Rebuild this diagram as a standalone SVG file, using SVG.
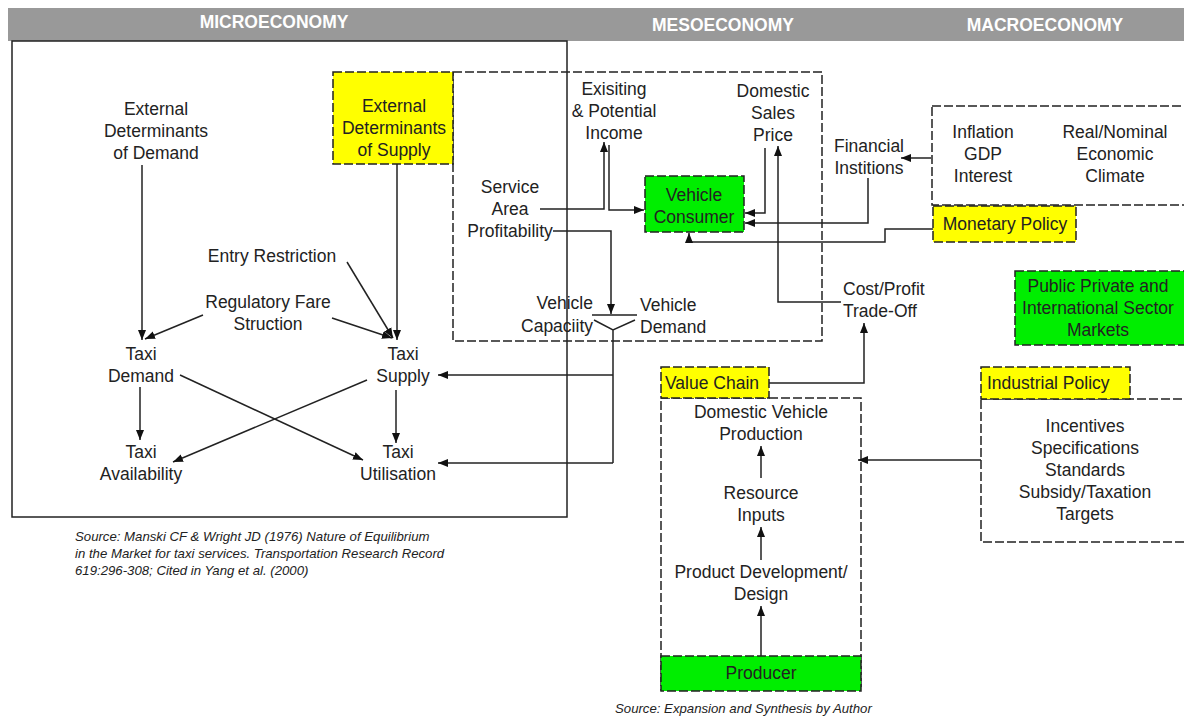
<svg xmlns="http://www.w3.org/2000/svg" width="1184" height="716" viewBox="0 0 1184 716">
<defs>
<marker id="ah" viewBox="0 0 10 10" refX="10" refY="5" markerWidth="10" markerHeight="10" markerUnits="userSpaceOnUse" orient="auto"><path d="M0,1 L10,5 L0,9 z" fill="#111"/></marker>
<style>
text{font-family:"Liberation Sans",Arial,sans-serif;font-size:17.5px;fill:#222;text-anchor:middle}
.hd{font-weight:bold;fill:#fff;font-size:17.5px}
.src{font-size:13.2px;font-style:italic;text-anchor:start}
.dash{fill:none;stroke:#222;stroke-width:1.5;stroke-dasharray:9 3}
.yel{fill:#ffff00;stroke:#222;stroke-width:1.5;stroke-dasharray:9 3}
.grn{fill:#00ee00;stroke:#222;stroke-width:1.5;stroke-dasharray:9 3}
.ln{fill:none;stroke:#222;stroke-width:1.5}
.ar{fill:none;stroke:#222;stroke-width:1.5;marker-end:url(#ah)}
</style>
</defs>
<rect width="1184" height="716" fill="#fff"/>
<g id="header">
<rect x="8" y="8" width="1176" height="33" fill="#999"/>
<text class="hd" x="274" y="28">MICROECONOMY</text>
<text class="hd" x="723" y="31">MESOECONOMY</text>
<text class="hd" x="1045" y="31">MACROECONOMY</text>
</g>
<g id="micro-box"><rect x="12" y="41" width="555" height="476" fill="none" stroke="#222" stroke-width="1.5"/></g>
<g id="meso-box"><rect x="453" y="72" width="369" height="269" class="dash"/></g>
<g id="ext-demand"><text x="156" y="115">External</text><text x="156" y="137">Determinants</text><text x="156" y="159">of Demand</text></g>
<g id="ext-supply"><rect x="333" y="72" width="120" height="92" class="yel"/><text x="394" y="112">External</text><text x="394" y="134">Determinants</text><text x="394" y="156">of Supply</text></g>
<g id="entry"><text x="272" y="262">Entry Restriction</text></g>
<g id="fare"><text x="268" y="308">Regulatory Fare</text><text x="268" y="330">Struction</text></g>
<g id="taxi-demand"><text x="141" y="360">Taxi</text><text x="141" y="382">Demand</text></g>
<g id="taxi-supply"><text x="403" y="360">Taxi</text><text x="403" y="382">Supply</text></g>
<g id="taxi-avail"><text x="141" y="458">Taxi</text><text x="141" y="480">Availability</text></g>
<g id="taxi-util"><text x="398" y="458">Taxi</text><text x="398" y="480">Utilisation</text></g>
<g id="income"><text x="614" y="95">Exisiting</text><text x="614" y="117">&amp; Potential</text><text x="614" y="139">Income</text></g>
<g id="sales-price"><text x="773" y="97">Domestic</text><text x="773" y="119">Sales</text><text x="773" y="141">Price</text></g>
<g id="service-area"><text x="510" y="193">Service</text><text x="510" y="215">Area</text><text x="510" y="237">Profitability</text></g>
<g id="vehicle-consumer"><rect x="645" y="176" width="99" height="56" class="grn"/><text x="694" y="201">Vehicle</text><text x="694" y="223">Consumer</text></g>
<g id="vehicle-cap"><text x="593" y="309" style="text-anchor:end">Vehicle</text><text x="593" y="332" style="text-anchor:end">Capaciity</text></g>
<g id="vehicle-dem"><text x="640" y="311" style="text-anchor:start">Vehicle</text><text x="640" y="333" style="text-anchor:start">Demand</text></g>
<g id="fin-inst"><text x="869" y="152">Financial</text><text x="869" y="174">Institions</text></g>
<g id="macro-box"><rect x="932" y="106" width="260" height="99" class="dash"/><text x="983" y="138">Inflation</text><text x="983" y="160">GDP</text><text x="983" y="182">Interest</text><text x="1115" y="138">Real/Nominal</text><text x="1115" y="160">Economic</text><text x="1115" y="182">Climate</text></g>
<g id="monetary"><rect x="933" y="206" width="143" height="36" class="yel"/><text x="1005" y="230">Monetary Policy</text></g>
<g id="markets"><rect x="1015" y="271" width="175" height="74" class="grn"/><text x="1098" y="292">Public Private and</text><text x="1098" y="314">International Sector</text><text x="1098" y="336">Markets</text></g>
<g id="cost-profit"><text x="843" y="295" style="text-anchor:start">Cost/Profit</text><text x="843" y="317" style="text-anchor:start">Trade-Off</text></g>
<g id="value-chain"><rect x="661" y="398" width="200" height="292" class="dash"/><rect x="661" y="367" width="108" height="31" class="yel"/><text x="665" y="389" style="text-anchor:start">Value Chain</text>
<text x="761" y="418">Domestic Vehicle</text><text x="761" y="440">Production</text>
<text x="761" y="499">Resource</text><text x="761" y="521">Inputs</text>
<text x="761" y="578">Product Development/</text><text x="761" y="600">Design</text></g>
<g id="producer"><rect x="661" y="656" width="200" height="35" class="grn"/><text x="761" y="679">Producer</text></g>
<g id="industrial"><rect x="981" y="399" width="210" height="143" class="dash"/><rect x="981" y="367" width="149" height="32" class="yel"/><text x="987" y="389" style="text-anchor:start">Industrial  Policy</text>
<text x="1085" y="432">Incentives</text><text x="1085" y="454">Specifications</text><text x="1085" y="476">Standards</text><text x="1085" y="498">Subsidy/Taxation</text><text x="1085" y="520">Targets</text></g>
<g id="sources">
<text class="src" x="75" y="541">Source: Manski CF &amp; Wright JD (1976) Nature of Equilibrium</text>
<text class="src" x="75" y="558">in the Market for taxi services. Transportation Research Record</text>
<text class="src" x="75" y="575">619:296-308; Cited in Yang et al. (2000)</text>
<text class="src" x="615" y="713">Source: Expansion and Synthesis by Author</text>
</g>
<g id="connectors">
<path class="ar" d="M142,165 V340"/>
<path class="ar" d="M397,164 V340"/>
<path class="ar" d="M347,262 L393,338"/>
<path class="ar" d="M203,315 L145,339"/>
<path class="ar" d="M332,318 L392,338"/>
<path class="ar" d="M140,387 V440"/>
<path class="ar" d="M396,390 V443"/>
<path class="ar" d="M180,375 L363,460"/>
<path class="ar" d="M367,380 L173,462"/>
<path class="ar" d="M540,209 H604 V142"/>
<path class="ar" d="M609,145 V210 H644"/>
<path class="ar" d="M553,231 H611 V314"/>
<path class="ln" d="M592,315 H637 M594,320 L613,330 L635,320 M613,330 V463"/>
<path class="ar" d="M613,375 H438"/>
<path class="ar" d="M613,463 H438"/>
<path class="ar" d="M765,148 V213 H745"/>
<path class="ar" d="M841,302 H778 V146"/>
<path class="ar" d="M868,178 V223 H745"/>
<path class="ar" d="M931,158 H901"/>
<path class="ar" d="M933,229 H885 V242 H689 V233"/>
<path class="ar" d="M769,383 H864 V323"/>
<path class="ar" d="M981,460 H858"/>
<path class="ar" d="M761,478 V446"/>
<path class="ar" d="M761,560 V527"/>
<path class="ar" d="M761,656 V606"/>
</g>
</svg>
